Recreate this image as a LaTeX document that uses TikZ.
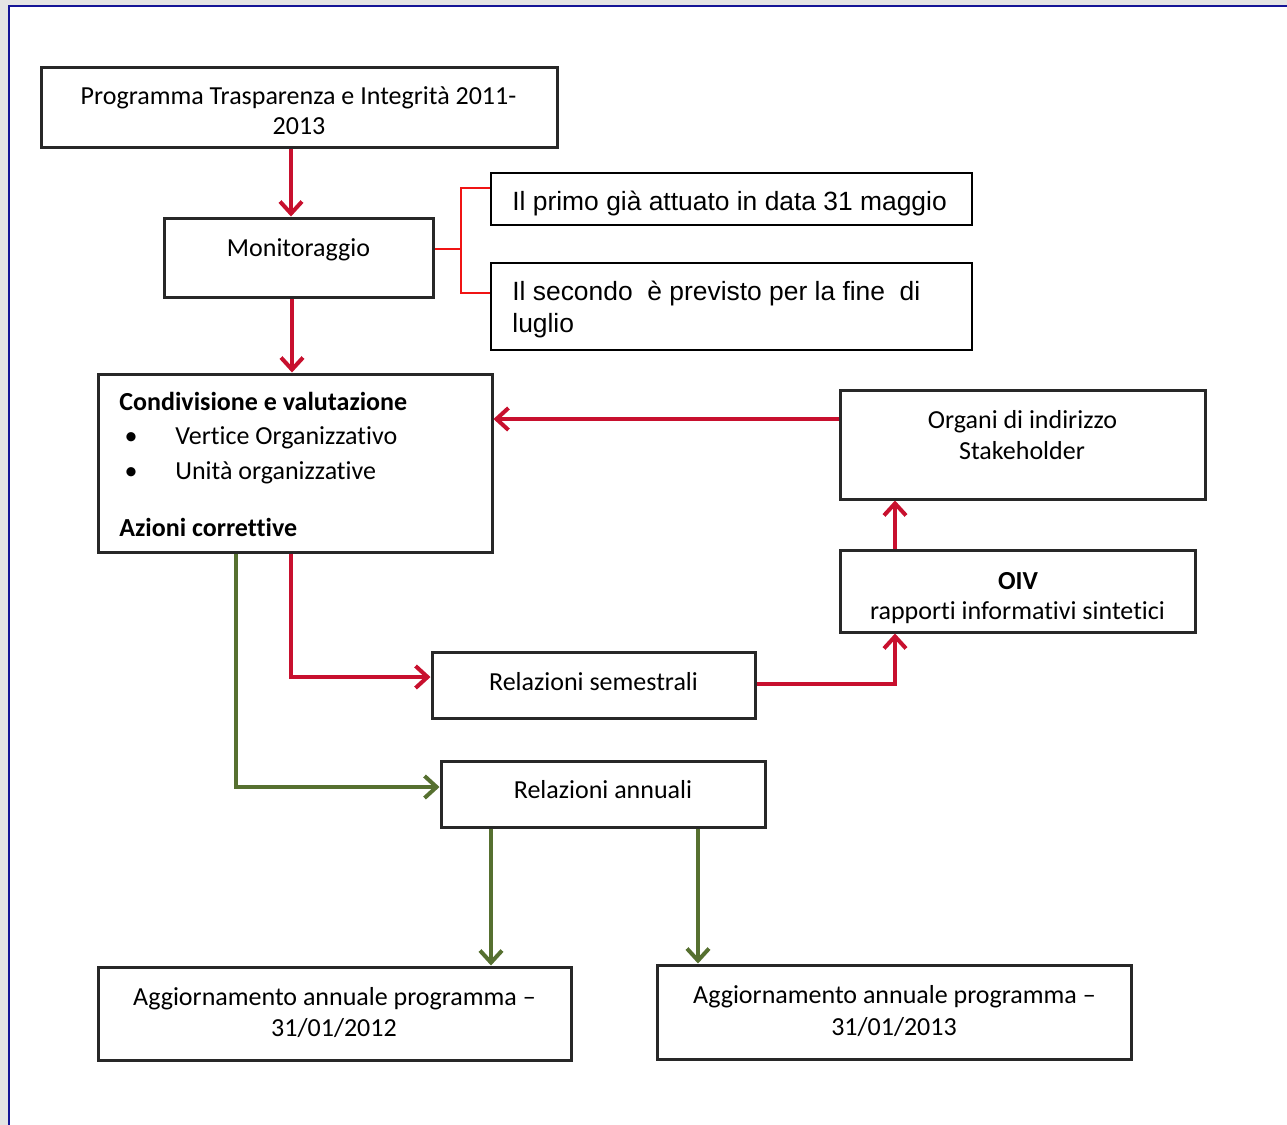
\documentclass[tikz,border=0pt]{standalone}
\usepackage{fontspec}
\setmainfont[Ligatures=NoCommon]{Carlito}
\newfontfamily\arialf{Liberation Sans}
\usetikzlibrary{arrows.meta,calc}
\definecolor{myred}{RGB}{200,16,46}
\definecolor{brred}{RGB}{240,20,20}
\definecolor{mygreen}{RGB}{86,112,48}
\definecolor{frameblue}{RGB}{20,20,150}
\definecolor{bggray}{RGB}{228,228,228}
\definecolor{boxline}{RGB}{40,40,40}
\begin{document}
\begin{tikzpicture}[x=0.5pt,y=-0.5pt,
  box/.style={draw=boxline, line width=1.5pt, fill=white, rectangle, inner sep=0pt},
  abox/.style={draw=black, line width=1.1pt, fill=white, rectangle, inner sep=0pt},
  txt/.style={anchor=base, inner sep=0pt, font=\fontsize{13}{15.5}\selectfont},
  ltxt/.style={anchor=base west, inner sep=0pt, font=\fontsize{13}{15.5}\selectfont},
  atxt/.style={anchor=base west, inner sep=0pt, font=\arialf\fontsize{13.2}{16}\selectfont},
  redarr/.style={draw=myred, line width=2pt, -{Straight Barb[length=6pt,width=11pt,line width=2pt]}},
  grnarr/.style={draw=mygreen, line width=2pt, -{Straight Barb[length=6pt,width=11pt,line width=2pt]}},
  thinred/.style={draw=brred, line width=1pt}]
\useasboundingbox (0,0) rectangle (1287,1125);
% background frame
\fill[bggray] (0,0) rectangle (1287,1125);
\fill[white] (10,7) rectangle (1287,1125);
\draw[frameblue, line width=1.2pt] (9,1125) -- (9,6) -- (1287,6);

% boxes
\node[box, minimum width=258pt, minimum height=40pt] (prog) at (299,107) {};
\node[box, minimum width=134.5pt, minimum height=39.5pt] (mon) at (298.5,257.5) {};
\node[abox, minimum width=240.5pt, minimum height=26pt] (primo) at (731.5,199) {};
\node[abox, minimum width=240.5pt, minimum height=43.5pt] (secondo) at (731.5,306.5) {};
\node[box, minimum width=197pt, minimum height=89pt] (cond) at (295,463) {};
\node[box, minimum width=182.5pt, minimum height=54.5pt] (org) at (1022.5,444.5) {};
\node[box, minimum width=177.5pt, minimum height=41pt] (oiv) at (1017.5,591) {};
\node[box, minimum width=161.5pt, minimum height=33pt] (sem) at (593.5,685) {};
\node[box, minimum width=162pt, minimum height=33pt] (ann) at (603,794) {};
\node[box, minimum width=236.5pt, minimum height=46.5pt] (agga) at (334.5,1013.5) {};
\node[box, minimum width=237pt, minimum height=47pt] (aggb) at (894,1012) {};

% texts
\node[txt] (t1) at (298.5,104) {Programma Trasparenza e Integrità 2011-};
\node[txt] (t2) at (299,134) {2013};
\node[txt] (t3) at (298.5,256) {Monitoraggio};
\node[atxt] (t4) at (512,210) {Il primo già attuato in data 31 maggio};
\node[atxt] (t5) at (512,300) {Il secondo\ \ è previsto per la fine\ \ di};
\node[atxt] (t6) at (512,332) {luglio};
\node[ltxt, font=\fontsize{13}{15.5}\selectfont\bfseries] (t7) at (119,410) {Condivisione e valutazione};
\node[txt] (b1) at (131,444) {•};
\node[ltxt] (t8) at (175,444) {Vertice Organizzativo};
\node[txt] (b2) at (131,479) {•};
\node[ltxt] (t9) at (175,479) {Unità organizzative};
\node[ltxt, font=\fontsize{13}{15.5}\selectfont\bfseries] (t10) at (119,536) {Azioni correttive};
\node[txt] (t11) at (1022.5,428) {Organi di indirizzo};
\node[txt] (t12) at (1022,459) {Stakeholder};
\node[txt, font=\fontsize{13}{15.5}\selectfont\bfseries] (t13) at (1018,589) {OIV};
\begin{scope}
\clip (840,560) rectangle (1195,623);
\node[txt] (t14) at (1017.5,619) {rapporti informativi sintetici};
\end{scope}
\node[txt] (t15) at (593.5,690) {Relazioni semestrali};
\node[txt] (t16) at (603,798) {Relazioni annuali};
\node[txt] (t17) at (334.5,1005) {Aggiornamento annuale programma –};
\node[txt] (t18) at (334,1036) {31/01/2012};
\node[txt] (t19) at (894.5,1003) {Aggiornamento annuale programma –};
\node[txt] (t20) at (894,1035) {31/01/2013};

% helper coordinates
\coordinate (xa) at (291,0);
\coordinate (xb) at (292,0);
\coordinate (xg) at (236,0);
\coordinate (xo) at (895,0);
\coordinate (xl) at (491,0);
\coordinate (xr) at (698,0);
\coordinate (yo) at (0,419);
\coordinate (ys) at (0,677);
\coordinate (ya) at (0,787);
\coordinate (ye) at (0,684);

% connectors
\draw[redarr] (prog.south -| xa) -- (mon.north -| xa);
\draw[redarr] (mon.south -| xb) -- (cond.north -| xb);
\coordinate (br) at (461,249);
\draw[thinred] (mon.east |- br) -- (br);
\draw[thinred] ([yshift=5.5pt]primo.west) -| (br) |- ([yshift=6.75pt]secondo.west);
\draw[redarr] (org.west |- yo) -- (cond.east |- yo);
\draw[redarr] (oiv.north -| xo) -- (org.south -| xo);
\draw[redarr] (sem.east |- ye) -| (oiv.south -| xo);
\draw[redarr] (cond.south -| xa) |- (sem.west |- ys);
\draw[grnarr] (cond.south -| xg) |- (ann.west |- ya);
\draw[grnarr] (ann.south -| xl) -- (agga.north -| xl);
\draw[grnarr] (ann.south -| xr) -- (aggb.north -| xr);
\end{tikzpicture}
\end{document}
